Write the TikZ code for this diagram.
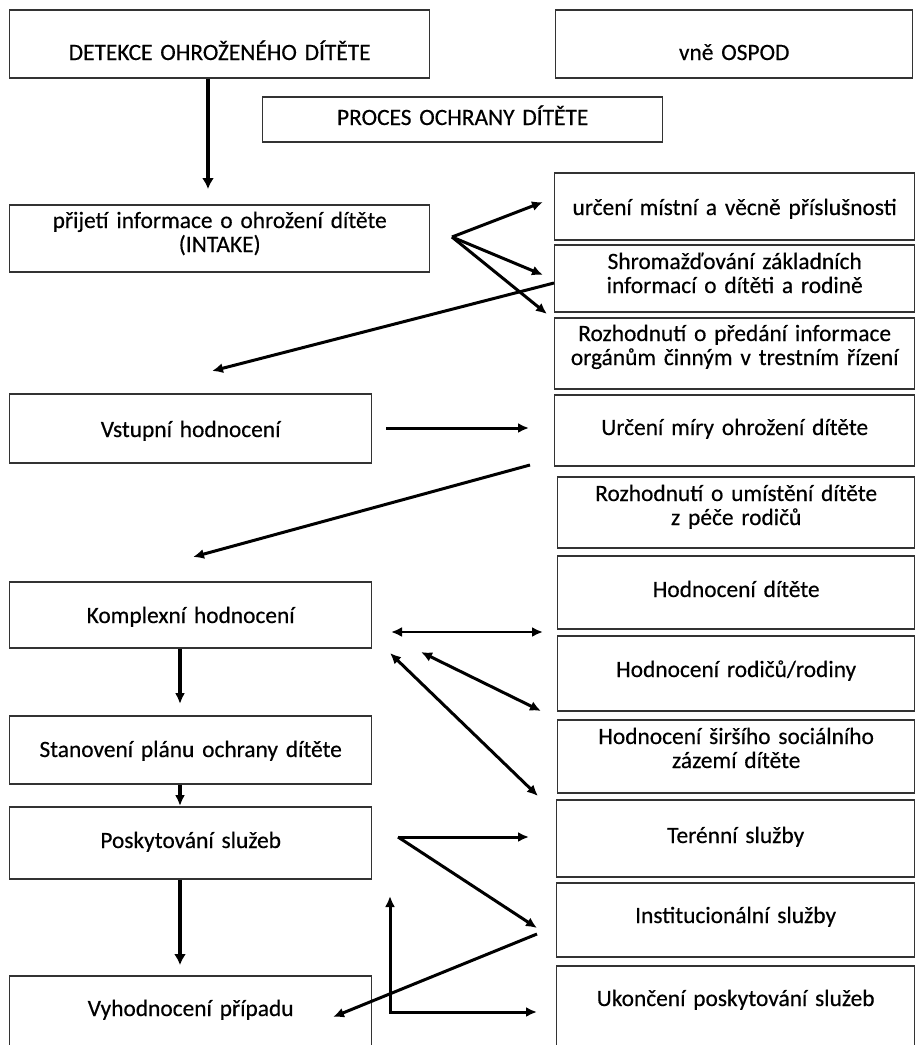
\documentclass[tikz,border=0pt]{standalone}
\usepackage{fontspec}
\setmainfont{Carlito}
\newfontfamily\boxfont{Carlito}[FakeBold=0.4]
\usetikzlibrary{arrows.meta}
\newcommand\mybox[7]{%
  \pgfmathsetmacro\bw{#4-#2}%
  \pgfmathsetmacro\bh{#6-#3}%
  \pgfmathsetmacro\bd{#5-#6}%
  \node[box, text width=\bw pt, text height=\bh pt, text depth=\bd pt] (#1) at (#2,#6) {#7};}
\begin{document}
\begin{tikzpicture}[x=1pt,y=-1pt,
  box/.style={draw=black!80, line width=1.4pt, inner xsep=0pt, inner ysep=0pt,
    align=center, font=\boxfont\fontsize{23.4}{24}\selectfont, anchor=base west},
  arr/.style={line width=3pt, -{Latex[length=11pt,width=10pt]}},
  arrb/.style={line width=3pt, {Latex[length=11pt,width=10pt]}-{Latex[length=11pt,width=10pt]}},
  thick arr/.style={arr, line width=4.5pt, -{Latex[length=11pt,width=12pt]}}]
\fill[white] (0,0) rectangle (915,1045);
\useasboundingbox (0,0) rectangle (915,1045);
% left column
\mybox{det}{9}{10}{429}{78}{60}{DETEKCE OHROŽENÉHO DÍTĚTE}
\mybox{ospod}{555}{10}{912}{78}{60}{vně OSPOD}
\mybox{proc}{262}{97}{662}{142}{125}{PROCES OCHRANY DÍTĚTE}
\mybox{intake}{9}{205}{429}{272}{228}{přijetí informace o ohrožení dítěte\\(INTAKE)}
\mybox{vstup}{9}{394}{371}{463}{437}{Vstupní hodnocení}
\mybox{kompl}{9}{582}{371}{648}{623}{Komplexní hodnocení}
\mybox{plan}{9}{716}{371}{784}{757}{Stanovení plánu ochrany dítěte}
\mybox{posk}{9}{807}{371}{879}{848}{Poskytování služeb}
\mybox{vyhod}{9}{976}{371}{1052}{1016}{Vyhodnocení případu}
% right column
\mybox{r1}{554}{173}{914}{240}{215}{určení místní a věcně příslušnosti}
\mybox{r2}{554}{245}{914}{312}{269}{Shromažďování základních\\informací o dítěti a rodině}
\mybox{r3}{554}{318}{914}{389}{341}{Rozhodnutí o předání informace\\orgánům činným v trestním řízení}
\mybox{r4}{554}{395}{914}{466}{435}{Určení míry ohrožení dítěte}
\mybox{r5}{557}{477}{914}{548}{501}{Rozhodnutí o umístění dítěte\\z péče rodičů}
\mybox{r6}{557}{556}{914}{629}{597}{Hodnocení dítěte}
\mybox{r7}{557}{636}{914}{711}{677}{Hodnocení rodičů/rodiny}
\mybox{r8}{557}{720}{914}{793}{744}{Hodnocení širšího sociálního\\zázemí dítěte}
\mybox{r9}{556}{800}{914}{877}{843}{Terénní služby}
\mybox{r10}{556}{883}{914}{957}{923}{Institucionální služby}
\mybox{r11}{556}{966}{914}{1052}{1006}{Ukončení poskytování služeb}
% connector ends
\coordinate (a1e) at (208,189);
\coordinate (f1) at (452,237);
\coordinate (f1a) at (543,202);
\coordinate (f1b) at (543,275);
\coordinate (f1c) at (547,314);
\coordinate (a3s) at (554,283);
\coordinate (a3e) at (212,371);
\coordinate (a4s) at (386,428);
\coordinate (a4e) at (529,428);
\coordinate (a5s) at (530,465);
\coordinate (a5e) at (193,557);
\coordinate (a6e) at (180,704);
\coordinate (b1s) at (391,632);
\coordinate (b1e) at (543,632);
\coordinate (b2s) at (421,652);
\coordinate (b2e) at (541,711);
\coordinate (b3s) at (390,653);
\coordinate (b3e) at (538,796);
\coordinate (a10e) at (180,806);
\coordinate (a11e) at (180,965);
\coordinate (f2) at (398,837);
\coordinate (f2a) at (529,837);
\coordinate (f2b) at (537,928);
\coordinate (a13s) at (537,934);
\coordinate (a13e) at (333,1017);
\coordinate (a14s) at (390,896);
\coordinate (a14e) at (537,1012);
% connectors
\draw[thick arr] (det.south -| a1e) -- (a1e);
\draw[arr] (f1) -- (f1a);
\draw[arr] (f1) -- (f1b);
\draw[arr] (f1) -- (f1c);
\draw[arr] (a3s) -- (a3e);
\draw[arr] (a4s) -- (a4e);
\draw[arr] (a5s) -- (a5e);
\draw[arr, line width=3.5pt] (kompl.south -| a6e) -- (a6e);
\draw[arrb, line width=2.5pt] (b1s) -- (b1e);
\draw[arrb] (b2s) -- (b2e);
\draw[arrb] (b3s) -- (b3e);
\draw[arr, line width=4pt] (plan.south -| a10e) -- (a10e);
\draw[thick arr] (posk.south -| a11e) -- (a11e);
\draw[arr] (f2) -- (f2a);
\draw[arr] (f2) -- (f2b);
\draw[arr] (a13s) -- (a13e);
\draw[arrb] (a14s) |- (a14e);
\end{tikzpicture}
\end{document}
